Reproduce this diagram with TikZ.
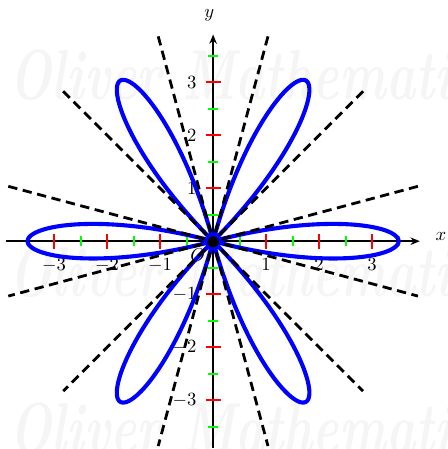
\documentclass[tikz,border=0pt]{standalone}
\usetikzlibrary{arrows.meta}
\begin{document}
\begin{tikzpicture}[x=1cm,y=1cm,
  axisline/.style={line width=0.9pt,-{Stealth[length=5pt,width=4pt]}},
  redtick/.style={red,line width=1pt},
  greentick/.style={green,line width=1pt},
  tangentline/.style={line width=1.5pt,dash pattern=on 5pt off 3pt},
  rosecurve/.style={blue,line width=2.2pt,line join=round},
  wmark/.style={text=black!4,font=\fontsize{38}{40}\selectfont\bfseries\itshape,xscale=0.7,transform shape,anchor=west,inner sep=0pt}]
\useasboundingbox (-4.02,-3.92) rectangle (4.42,4.55);
% watermark
\node[wmark] (w1) at (-3.85,3.13) {Oliver Mathematics};
\node[wmark] (w2) at (-3.85,-0.58) {Oliver Mathematics};
\node[wmark] (w3) at (-3.85,-3.53) {Oliver Mathematics};
% axes
\coordinate (xl) at (-3.9,0);
\coordinate (xr) at (3.9,0);
\coordinate (yb) at (0,-3.9);
\coordinate (yt) at (0,3.9);
\draw[axisline] (xl) -- (xr);
\draw[axisline] (yb) -- (yt);
\node (xlab) at (4.3,0.08) {$x$};
\node (ylab) at (-0.07,4.27) {$y$};
% ticks
\foreach \v in {0.5,1.5,2.5,3.5}{
  \draw[greentick] (\v,-0.1) -- (\v,0.1);
  \draw[greentick] (-\v,-0.1) -- (-\v,0.1);
  \draw[greentick] (-0.1,\v) -- (0.1,\v);
  \draw[greentick] (-0.1,-\v) -- (0.1,-\v);
}
\foreach \v in {1,2,3}{
  \draw[redtick] (\v,-0.14) -- (\v,0.14);
  \draw[redtick] (-\v,-0.14) -- (-\v,0.14);
  \draw[redtick] (-0.14,\v) -- (0.14,\v);
  \draw[redtick] (-0.14,-\v) -- (0.14,-\v);
  \node[below] (xp\v) at (\v,-0.2) {$\v$};
  \node[below] (xn\v) at (-\v,-0.2) {$-\v$};
  \node[left] (yp\v) at (-0.19,\v) {$\v$};
  \node[left] (yn\v) at (-0.19,-\v) {$-\v$};
}
\node (O) at (-0.29,-0.27) {$O$};
% rose curve r = 3.5 cos(6 theta), positive parts only
\foreach \k in {0,...,5}{
  \draw[rosecurve,rotate=60*\k] plot[domain=-15:15,samples=80,smooth] (\x:{3.5*cos(6*\x)});
}
% tangent lines at the pole
\coordinate (c0) at (0,0);
\foreach \a in {15,45,75,105,135,165}{
  \draw[tangentline] (\a:4) -- (\a+180:4);
}
\fill (c0) circle (0.1);
\end{tikzpicture}
\end{document}
